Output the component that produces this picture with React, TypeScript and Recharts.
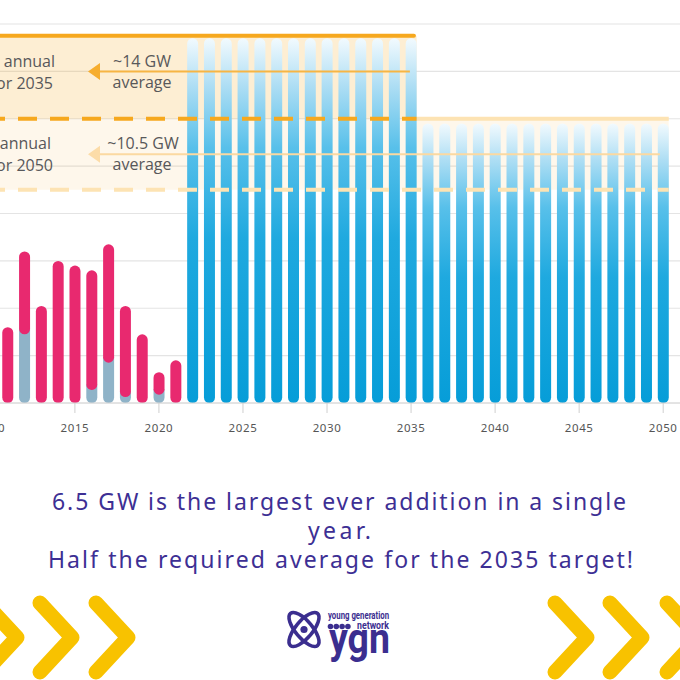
import React from 'react';
import {
  ComposedChart,
  Bar,
  XAxis,
  YAxis,
  CartesianGrid,
  ReferenceArea,
  ReferenceLine,
} from 'recharts';

// installed capacity added per year (GW), pink = new build, grey = repowering/other
const historyYears = [2010, 2011, 2012, 2013, 2014, 2015, 2016, 2017, 2018, 2019, 2020, 2021];
const historyGrey = [0, 0, 2.9, 0, 0, 0, 0.55, 1.7, 0.25, 0, 0.35, 0];
const historyPink = [3.0, 3.2, 3.5, 4.1, 6.0, 5.8, 5.05, 5.0, 3.85, 2.9, 0.95, 1.8];

// required build per year to hit the targets
const projectionYears = [
  2022, 2023, 2024, 2025, 2026, 2027, 2028, 2029, 2030, 2031, 2032, 2033, 2034, 2035,
  2036, 2037, 2038, 2039, 2040, 2041, 2042, 2043, 2044, 2045, 2046, 2047, 2048, 2049, 2050,
];
const projectionValues = [
  15.4, 15.4, 15.4, 15.4, 15.4, 15.4, 15.4, 15.4, 15.4, 15.4, 15.4, 15.4, 15.4, 15.4,
  11.8, 11.8, 11.8, 11.8, 11.8, 11.8, 11.8, 11.8, 11.8, 11.8, 11.8, 11.8, 11.8, 11.8, 11.8,
];

const xTicks = [2010, 2015, 2020, 2025, 2030, 2035, 2040, 2045, 2050];
const yTicks = [0, 2, 4, 6, 8, 10, 12, 14, 16];

// target bands (GW)
const band2035 = [12, 15.5];
const band2050 = [9, 12];
const avg2035 = 14;
const avg2050 = 10.5;

const data = [
  ...historyYears.map((year, i) => ({ year, grey: historyGrey[i], pink: historyPink[i], proj: 0 })),
  ...projectionYears.map((year, i) => ({ year, grey: 0, pink: 0, proj: projectionValues[i] })),
];

const X_MIN = 2004;
const X_MAX = 2051;
const END_2035 = 2035.33;
const END_2050 = 2050.33;
const ARROW_TIP = 2015.78;

const DARK = '#f6a81e';
const LIGHT = '#fde3b3';
const TEXT = '#58585a';
const PURPLE = '#3d2f94';
const LABEL_FONT = "'Open Sans', 'Noto Sans', sans-serif";

function PillShape(props: any) {
  const { x, y, width, height, fill } = props;
  if (!height || height <= 0) return null;
  const r = Math.min(width / 2, height / 2);
  return <rect x={x} y={y} width={width} height={height} rx={r} ry={r} fill={fill} />;
}

// grey sits under the pink pill, so it reaches up under the pink's round end
function GreyShape(props: any) {
  const { x, y, width, height, fill } = props;
  if (!height || height <= 0) return null;
  const r = width / 2;
  const b = y + height;
  const d = `M${x},${y - r} H${x + width} V${b - r} A${r},${r} 0 0 1 ${x},${b - r} Z`;
  return <path d={d} fill={fill} />;
}

function arrowLine(lineColor: string, headColor: string) {
  return (p: any) => {
    const left = Math.min(p.x1, p.x2);
    const right = Math.max(p.x1, p.x2);
    const y = p.y1;
    return (
      <g>
        <line x1={left + 10} y1={y} x2={right} y2={y} stroke={lineColor} strokeWidth={2} />
        <polygon
          points={`${left},${y} ${left + 12},${y - 8.5} ${left + 12},${y + 8.5}`}
          fill={headColor}
        />
      </g>
    );
  };
}

function Chevrons({ xs }: { xs: number[] }) {
  return (
    <>
      {xs.map((x) => (
        <polyline
          key={x}
          points={`${x - 32},603 ${x},637.5 ${x - 32},672`}
          fill="none"
          stroke="#f8c200"
          strokeWidth={15}
          strokeLinecap="round"
          strokeLinejoin="round"
        />
      ))}
    </>
  );
}

export default function App() {
  return (
    <div
      style={{
        position: 'fixed',
        left: 0,
        top: 0,
        width: 680,
        height: 680,
        overflow: 'hidden',
        background: '#fff',
      }}
    >
      <div style={{ position: 'absolute', left: -110, top: 0 }}>
        <ComposedChart
          width={790}
          height={440}
          data={data}
          margin={{ top: 24, right: 0, bottom: 0, left: 0 }}
          barSize={11}
        >
          <defs>
            <linearGradient id="blueFade" x1="0" y1="0" x2="0" y2="1">
              <stop offset="0" stopColor="#f2fafe" />
              <stop offset="0.13" stopColor="#aedef4" />
              <stop offset="0.3" stopColor="#58c0ea" />
              <stop offset="0.55" stopColor="#1fa9df" />
              <stop offset="1" stopColor="#069dd8" />
            </linearGradient>
          </defs>
          <CartesianGrid vertical={false} stroke="#e4e4e4" strokeWidth={1.2} />
          <XAxis
            type="number"
            dataKey="year"
            domain={[X_MIN, X_MAX]}
            ticks={xTicks}
            allowDataOverflow
            axisLine={{ stroke: '#d6d6d6' }}
            tickLine={{ stroke: '#cfcfcf' }}
            tickSize={10}
            tickMargin={11}
            height={37}
            tick={{ fontSize: 11.5, fill: '#555', fontFamily: "'Noto Sans', sans-serif", letterSpacing: 0.6 }}
          />
          <YAxis hide type="number" domain={[0, 16]} ticks={yTicks} />
          <ReferenceArea
            x1={X_MIN}
            x2={END_2035}
            y1={band2035[0]}
            y2={band2035[1]}
            fill="#f7a823"
            fillOpacity={0.2}
            stroke="none"
            zIndex={-50}
          />
          <ReferenceArea
            x1={X_MIN}
            x2={END_2050}
            y1={band2050[0]}
            y2={band2050[1]}
            fill="#f7a823"
            fillOpacity={0.09}
            stroke="none"
            zIndex={-50}
          />
          <Bar dataKey="grey" stackId="a" fill="#8fb3c8" shape={GreyShape} isAnimationActive={false} />
          <Bar dataKey="pink" stackId="a" fill="#e8296f" shape={PillShape} isAnimationActive={false} />
          <Bar dataKey="proj" stackId="a" fill="url(#blueFade)" shape={PillShape} isAnimationActive={false} />
          <ReferenceLine
            segment={[{ x: X_MIN, y: band2035[1] }, { x: 2035.17, y: band2035[1] }]}
            stroke={DARK}
            strokeWidth={4}
            strokeLinecap="round"
            zIndex={800}
          />
          <ReferenceLine
            segment={[{ x: X_MIN, y: band2035[0] }, { x: END_2035, y: band2035[0] }]}
            stroke={DARK}
            strokeWidth={4}
            strokeDasharray="19 13"
            zIndex={800}
          />
          <ReferenceLine
            segment={[{ x: END_2035, y: band2050[1] }, { x: END_2050, y: band2050[1] }]}
            stroke={LIGHT}
            strokeWidth={4}
            zIndex={790}
          />
          <ReferenceLine
            segment={[{ x: X_MIN, y: band2050[0] }, { x: END_2050, y: band2050[0] }]}
            stroke={LIGHT}
            strokeWidth={4}
            strokeDasharray="19 13"
            zIndex={800}
          />
          <ReferenceLine
            segment={[{ x: ARROW_TIP, y: avg2035 }, { x: 2034.93, y: avg2035 }]}
            shape={arrowLine('#f7b544', '#f6ad2e')}
            zIndex={800}
          />
          <ReferenceLine
            segment={[{ x: ARROW_TIP, y: avg2050 }, { x: 2049.8, y: avg2050 }]}
            shape={arrowLine('#fbd9a1', '#fcdca8')}
            zIndex={800}
          />
        </ComposedChart>
      </div>

      <svg
        width={680}
        height={680}
        style={{ position: 'absolute', left: 0, top: 0, pointerEvents: 'none' }}
      >
        <g fontFamily={LABEL_FONT} fontSize={16} fill={TEXT}>
          <text x={55} y={67} textAnchor="end">annual</text>
          <text x={53} y={89} textAnchor="end">for 2035</text>
          <text x={51} y={149} textAnchor="end">annual</text>
          <text x={53} y={171} textAnchor="end">for 2050</text>
          <text x={142} y={67} textAnchor="middle">~14 GW</text>
          <text x={142} y={88} textAnchor="middle">average</text>
          <text x={143} y={149} textAnchor="middle">~10.5 GW</text>
          <text x={142} y={170} textAnchor="middle">average</text>
        </g>

        <g fontFamily="'Noto Sans', sans-serif" fontSize={23} fill={PURPLE}>
          <text x={52} y={510} textLength={574} lengthAdjust="spacing">
            6.5 GW is the largest ever addition in a single
          </text>
          <text x={308} y={539} textLength={63} lengthAdjust="spacing">
            year.
          </text>
          <text x={48} y={568} textLength={585} lengthAdjust="spacing">
            Half the required average for the 2035 target!
          </text>
        </g>

        <Chevrons xs={[17, 72, 128, 587, 642, 699]} />

        <g stroke="#3b2e8f" strokeWidth={3.6} fill="none">
          <ellipse cx={304} cy={629.5} rx={21} ry={8.5} transform="rotate(50 304 629.5)" />
          <ellipse cx={304} cy={629.5} rx={21} ry={8.5} transform="rotate(-50 304 629.5)" />
        </g>
        <circle cx={304} cy={629.5} r={3.6} fill="#3b2e8f" />
        <g fill="#3b2e8f" fontFamily="'Liberation Sans Narrow', 'Roboto', sans-serif" fontWeight={700}>
          <text x={328} y={619} fontSize={10} textLength={61} lengthAdjust="spacingAndGlyphs">
            young generation
          </text>
          <circle cx={330.5} cy={626.5} r={2.8} />
          <circle cx={336.3} cy={626.5} r={2.8} />
          <circle cx={342.1} cy={626.5} r={2.8} />
          <circle cx={347.9} cy={626.5} r={2.8} />
          <text x={357} y={629} fontSize={10} textLength={32} lengthAdjust="spacingAndGlyphs">
            network
          </text>
          <text x={329} y={653} fontSize={43} textLength={61} lengthAdjust="spacingAndGlyphs">
            ygn
          </text>
        </g>
      </svg>
    </div>
  );
}
